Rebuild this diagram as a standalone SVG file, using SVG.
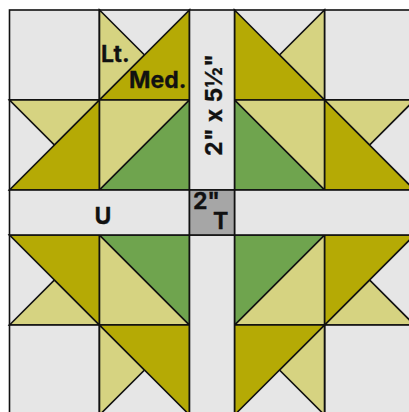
<svg xmlns="http://www.w3.org/2000/svg" width="409" height="412" viewBox="0 0 409 412">
<style>
.bg{fill:#e6e6e6}.lt{fill:#d6d381}.med{fill:#b5aa05}.gr{fill:#6fa44e}.tc{fill:#a6a6a6}
polygon,rect{stroke:#111;stroke-width:1.6;stroke-linejoin:miter}
text{font-family:"Inter","Liberation Sans",sans-serif;font-weight:700;fill:#111;stroke:#111;stroke-width:.3}
</style>
<rect width="409" height="412" fill="#fff" style="stroke:none"/>
<g id="block-tl">
<rect class="bg" x="9.5" y="10" width="90" height="90"/>
<rect class="bg" x="99.5" y="10" width="90" height="90"/>
<polygon class="lt" points="99.5,10 144.5,55 99.5,100"/>
<polygon class="med" points="189.5,10 189.5,100 99.5,100"/>
<rect class="bg" x="9.5" y="100" width="90" height="90"/>
<polygon class="lt" points="9.5,100 99.5,100 54.5,145"/>
<polygon class="med" points="99.5,100 99.5,190 9.5,190"/>
<polygon class="lt" points="99.5,100 189.5,100 99.5,190"/>
<polygon class="gr" points="189.5,100 189.5,190 99.5,190"/>
</g>
<g id="block-tr">
<rect class="bg" x="234.5" y="10" width="90" height="90"/>
<rect class="bg" x="324.5" y="10" width="90" height="90"/>
<polygon class="lt" points="324.5,10 324.5,100 279.5,55"/>
<polygon class="med" points="234.5,10 324.5,100 234.5,100"/>
<rect class="bg" x="324.5" y="100" width="90" height="90"/>
<polygon class="lt" points="324.5,100 414.5,100 369.5,145"/>
<polygon class="med" points="324.5,100 414.5,190 324.5,190"/>
<polygon class="lt" points="234.5,100 324.5,100 324.5,190"/>
<polygon class="gr" points="234.5,100 324.5,190 234.5,190"/>
</g>
<g id="block-bl">
<rect class="bg" x="9.5" y="235" width="90" height="90"/>
<polygon class="lt" points="9.5,325 54.5,280 99.5,325"/>
<polygon class="med" points="9.5,235 99.5,235 99.5,325"/>
<polygon class="lt" points="99.5,235 189.5,325 99.5,325"/>
<polygon class="gr" points="99.5,235 189.5,235 189.5,325"/>
<rect class="bg" x="9.5" y="325" width="90" height="90"/>
<rect class="bg" x="99.5" y="325" width="90" height="90"/>
<polygon class="lt" points="99.5,325 144.5,370 99.5,415"/>
<polygon class="med" points="99.5,325 189.5,325 189.5,415"/>
</g>
<g id="block-br">
<rect class="bg" x="324.5" y="235" width="90" height="90"/>
<polygon class="lt" points="324.5,325 369.5,280 414.5,325"/>
<polygon class="med" points="324.5,235 414.5,235 324.5,325"/>
<polygon class="lt" points="324.5,235 324.5,325 234.5,325"/>
<polygon class="gr" points="234.5,235 324.5,235 234.5,325"/>
<rect class="bg" x="324.5" y="325" width="90" height="90"/>
<rect class="bg" x="234.5" y="325" width="90" height="90"/>
<polygon class="lt" points="324.5,325 324.5,415 279.5,370"/>
<polygon class="med" points="234.5,325 324.5,325 234.5,415"/>
</g>
<g id="sashing">
<rect class="bg" x="189.5" y="10" width="45" height="180"/>
<rect class="bg" x="189.5" y="235" width="45" height="180"/>
<rect class="bg" x="9.5" y="190" width="180" height="45"/>
<rect class="bg" x="234.5" y="190" width="180" height="45"/>
<rect class="tc" x="189.5" y="190" width="45" height="45"/>
</g>
<g id="labels">
<text x="101" y="62" font-size="23">Lt.</text>
<text x="129" y="88" font-size="23">Med.</text>
<text x="103" y="224" font-size="23" text-anchor="middle">U</text>
<text x="193" y="209" font-size="23" textLength="27">2"</text>
<text x="213" y="228.5" font-size="23">T</text>
<text transform="translate(221.5,156) rotate(-90)" font-size="23" textLength="102">2" x 5½"</text>
</g>
</svg>
